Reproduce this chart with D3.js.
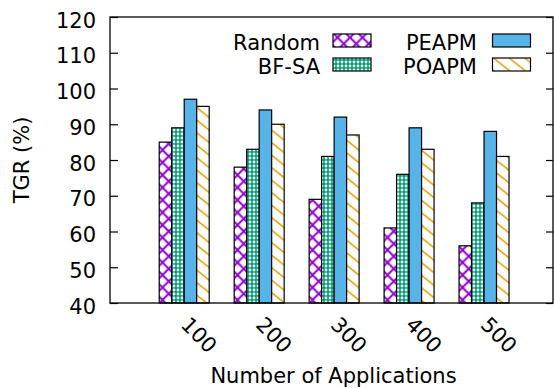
<!DOCTYPE html>
<html>
<head>
<meta charset="utf-8">
<script src="https://cdn.jsdelivr.net/npm/d3@7"></script>
<style>
  body { margin: 0; background: #fff; }
  text { font-family: "DejaVu Sans", sans-serif; font-size: 21px; fill: #000; }
</style>
</head>
<body>
<div id="chart"></div>
<script>
// data
var categories = ["100", "200", "300", "400", "500"];
var seriesNames = ["Random", "BF-SA", "PEAPM", "POAPM"];
var randomVals = [85, 78, 69, 61, 56];
var bfsaVals = [89, 83, 81, 76, 68];
var peapmVals = [97, 94, 92, 89, 88];
var poapmVals = [95, 90, 87, 83, 81];
var yTicks = [40, 50, 60, 70, 80, 90, 100, 110, 120];

var seriesVals = [randomVals, bfsaVals, peapmVals, poapmVals];

var _width = 554, _height = 388;
var plot = { left: 110, right: 553, top: 17, bottom: 303 };

var svg = d3.select("#chart").append("svg")
	.attr("width", _width)
	.attr("height", _height);

//
// fill patterns
//
var defs = svg.append("defs");

// Random: purple crosshatch
var pRand = defs.append("pattern").attr("id", "p0")
	.attr("patternUnits", "userSpaceOnUse")
	.attr("width", 12.5).attr("height", 12.5);
pRand.append("rect").attr("width", 12.5).attr("height", 12.5).attr("fill", "#fff");
pRand.append("path")
	.attr("d", "M-1,-1L13.5,13.5M-1,13.5L13.5,-1")
	.attr("stroke", "#9400d3").attr("stroke-width", 2);

// BF-SA: fine green crosshatch
var pBf = defs.append("pattern").attr("id", "p1")
	.attr("patternUnits", "userSpaceOnUse")
	.attr("width", 4).attr("height", 4);
pBf.append("rect").attr("width", 4).attr("height", 4).attr("fill", "#009e73");
pBf.append("circle").attr("cx", 2).attr("cy", 2).attr("r", 1.4).attr("fill", "#fff");

// POAPM: orange back-diagonal stripes
var sw = 15.6, sh = 12.5;
var pPo = defs.append("pattern").attr("id", "p3")
	.attr("patternUnits", "userSpaceOnUse")
	.attr("width", sw).attr("height", sh);
pPo.append("rect").attr("width", sw).attr("height", sh).attr("fill", "#fff");
pPo.append("path")
	.attr("d", "M0,0L" + sw + "," + sh + "M" + (-sw) + ",0L" + sw + "," + (2 * sh) + "M0," + (-sh) + "L" + (2 * sw) + "," + sh)
	.attr("stroke", "#e69f00").attr("stroke-width", 1.6);

var fills = ["url(#p0)", "url(#p1)", "#56b4e9", "url(#p3)"];

//
// scales
//
var x = d3.scaleLinear().domain([-0.99, 4.92]).range([plot.left, plot.right]);
var y = d3.scaleLinear().domain([40, 120]).range([plot.bottom, plot.top]);
var barW = 1 / 6;

// bars
seriesVals.forEach(function(vals, s) {
	svg.selectAll("rect.s" + s)
		.data(vals)
		.enter()
		.append("rect")
		.attr("class", "s" + s)
		.attr("x", function(d, i) { return x(i + (s - 2) * barW); })
		.attr("y", function(d) { return y(d); })
		.attr("width", function(d, i) { return x(i + (s - 1) * barW) - x(i + (s - 2) * barW); })
		.attr("height", function(d) { return y(40) - y(d); })
		.attr("fill", fills[s])
		.attr("stroke", "#000")
		.attr("stroke-width", 1.2);
});

// y axis, ticks inward
var yAxis = svg.append("g")
	.attr("transform", "translate(" + plot.left + ",0)")
	.call(d3.axisLeft(y).tickValues(yTicks).tickSize(-8).tickPadding(14));
yAxis.select(".domain").remove();
yAxis.selectAll("line").attr("stroke", "#000").attr("stroke-width", 1.2);
yAxis.selectAll("text").attr("dy", "0.48em")
	.style("font-family", "DejaVu Sans").style("font-size", "21px");

var yAxisR = svg.append("g")
	.attr("transform", "translate(" + plot.right + ",0)")
	.call(d3.axisRight(y).tickValues(yTicks).tickSize(-7).tickFormat(""));
yAxisR.select(".domain").remove();
yAxisR.selectAll("line").attr("stroke", "#000").attr("stroke-width", 1.2);

// x axis, rotated labels
var xAxis = svg.append("g")
	.attr("transform", "translate(0," + plot.bottom + ")")
	.call(d3.axisBottom(x).tickValues(d3.range(categories.length)).tickSize(0)
		.tickFormat(function(d) { return categories[d]; }));
xAxis.select(".domain").remove();
xAxis.selectAll("text")
	.attr("x", 0).attr("y", 0).attr("dy", 0)
	.attr("transform", "translate(-5,23) rotate(45)")
	.style("text-anchor", "start")
	.style("font-family", "DejaVu Sans").style("font-size", "21px");

// frame
svg.append("rect")
	.attr("x", plot.left).attr("y", plot.top)
	.attr("width", plot.right - plot.left).attr("height", plot.bottom - plot.top)
	.attr("fill", "none").attr("stroke", "#000").attr("stroke-width", 1.3);

// axis titles
svg.append("text")
	.attr("transform", "translate(28.5," + ((plot.top + plot.bottom) / 2) + ") rotate(-90)")
	.attr("text-anchor", "middle")
	.text("TGR (%)");

svg.append("text")
	.attr("x", 333.5).attr("y", 382.5)
	.attr("text-anchor", "middle")
	.text("Number of Applications");

//
// legend
//
var legendPos = [
	{ tx: 320, sx: 333, base: 49.5 },
	{ tx: 320, sx: 333, base: 73.5 },
	{ tx: 477, sx: 492.5, base: 49.5 },
	{ tx: 477, sx: 492.5, base: 73.5 }
];
var legend = svg.append("g").attr("class", "legend");
seriesNames.forEach(function(name, s) {
	var p = legendPos[s];
	legend.append("text")
		.attr("x", p.tx).attr("y", p.base)
		.attr("text-anchor", "end")
		.text(name);
	legend.append("rect")
		.attr("x", p.sx).attr("y", p.base - 15.5)
		.attr("width", 38).attr("height", 13)
		.attr("fill", fills[s])
		.attr("stroke", "#000").attr("stroke-width", 1.2);
});
</script>
</body>
</html>
